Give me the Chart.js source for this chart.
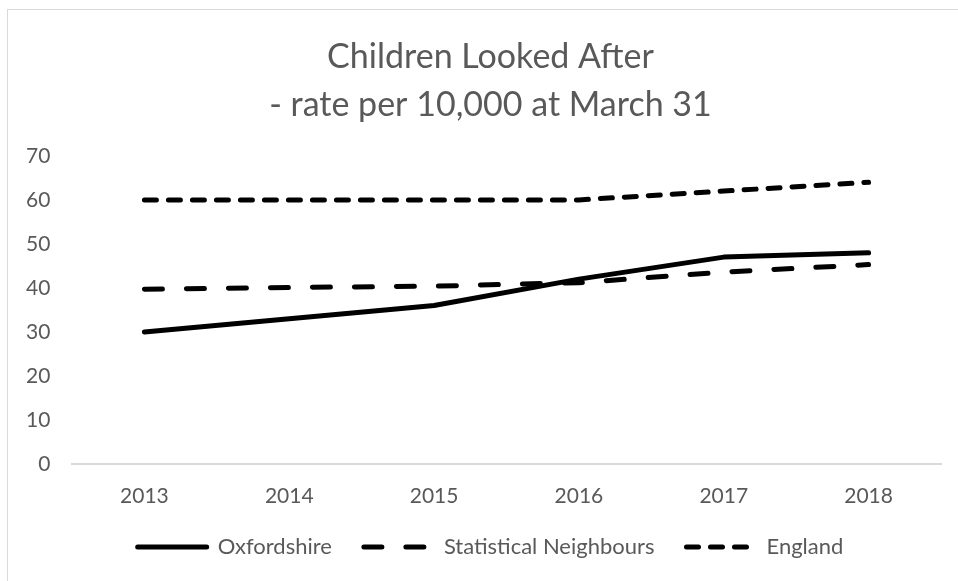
<!DOCTYPE html>
<html>
<head>
<meta charset="utf-8">
<script src="https://cdn.jsdelivr.net/npm/chart.js@4.4.1/dist/chart.umd.min.js"></script>
<style>
  html, body { margin: 0; padding: 0; background: #fff; overflow: hidden; }
  #frame { position: absolute; left: 7px; top: 9px; width: 1000px; height: 1000px;
           border-left: 1.5px solid #d9d9d9; border-top: 1.5px solid #d9d9d9; }
  #wrap { position: absolute; left: 0; top: 0; width: 958px; height: 581px; }
</style>
</head>
<body>
<div id="frame"></div>
<div id="wrap"><canvas id="chart" width="958" height="581"></canvas></div>
<script>
// Children looked after, rate per 10,000 at 31 March
const years = ["2013", "2014", "2015", "2016", "2017", "2018"];
const oxfordshire = [30, 33, 36, 42, 47, 48];
const statNeighbours = [39.7, 40.1, 40.4, 41.2, 43.6, 45.3];
const england = [60, 60, 60, 60, 62, 64];

const TEXT = "#595959";
const FONT = "Lato";

function line(label, data, dash) {
  return {
    label,
    data,
    borderColor: "#000",
    backgroundColor: "#000",
    borderWidth: 5,
    borderDash: dash,
    borderCapStyle: "round",
    borderJoinStyle: "round",
    tension: 0,
    pointRadius: 0,
    fill: false,
  };
}

new Chart(document.getElementById("chart"), {
  type: "line",
  data: {
    labels: years,
    datasets: [
      line("Oxfordshire", oxfordshire, []),
      line("Statistical Neighbours", statNeighbours, [18, 24]),
      line("England", england, [12, 12]),
    ],
  },
  options: {
    responsive: false,
    animation: false,
    layout: { padding: { left: 40, right: 17, top: 33, bottom: 13 } },
    plugins: {
      title: {
        display: true,
        text: ["Children Looked After", "- rate per 10,000 at March 31"],
        color: TEXT,
        font: { family: FONT, size: 34, weight: "normal", lineHeight: 1.41 },
        padding: { top: 0, bottom: 27 },
      },
      legend: {
        position: "bottom",
        labels: {
          color: TEXT,
          font: { family: FONT, size: 22 },
          usePointStyle: true,
          pointStyle: "line",
          pointStyleWidth: 69,
          padding: 32,
          // point-style items drop the dash, so copy it back from the dataset
          generateLabels: (chart) =>
            Chart.defaults.plugins.legend.labels.generateLabels(chart).map((item) => {
              const ds = chart.data.datasets[item.datasetIndex];
              return { ...item, lineDash: ds.borderDash, lineWidth: ds.borderWidth, lineCap: "round" };
            }),
        },
      },
      tooltip: { enabled: false },
    },
    scales: {
      x: {
        offset: true,
        grid: { display: false, drawTicks: false },
        border: { color: "#d9d9d9", width: 2 },
        ticks: { color: TEXT, font: { family: FONT, size: 21 }, padding: 20 },
        afterFit: (axis) => { axis.height = 40; },
      },
      y: {
        min: 0,
        max: 70,
        grid: { display: false, drawTicks: false },
        border: { display: false },
        ticks: {
          stepSize: 10, color: TEXT, font: { family: FONT, size: 21 },
          mirror: true, crossAlign: "far", padding: -46,
        },
        afterFit: (axis) => { axis.width = 32; },
      },
    },
  },
});
</script>
</body>
</html>
